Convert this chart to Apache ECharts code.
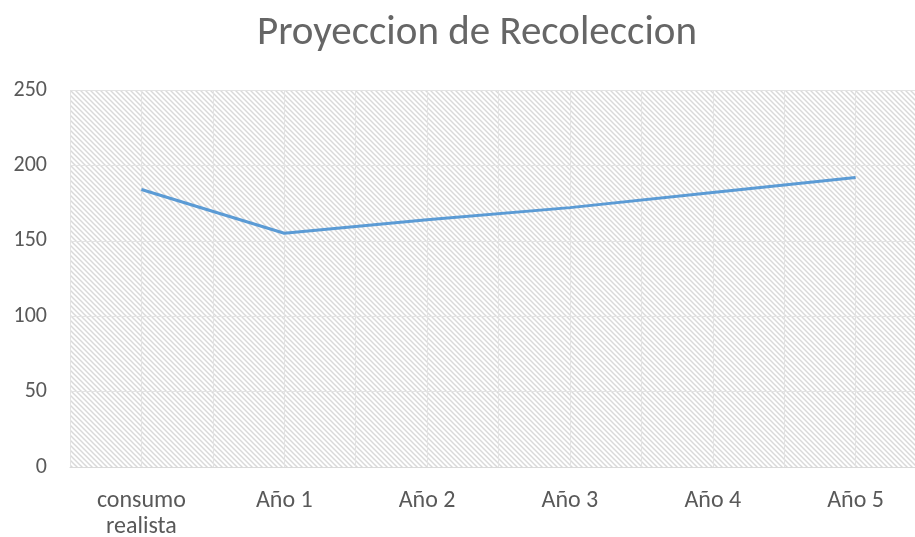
<!DOCTYPE html>
<html>
<head>
<meta charset="utf-8">
<script src="https://cdn.jsdelivr.net/npm/echarts@6/dist/echarts.min.js"></script>
<style>
    html, body { margin: 0; padding: 0; background: #fff; }
    #chart { width: 915px; height: 537px; }
</style>
</head>
<body>
<div id="chart"></div>
<script>
// categorías y valores
const categories = ['consumo\nrealista', 'Año 1', 'Año 2', 'Año 3', 'Año 4', 'Año 5'];
const recoleccion = [184, 155, 164, 172, 182, 192];
const yTicks = [0, 50, 100, 150, 200, 250];

// fondo rayado del área de trazado
function hatchPattern() {
    const c = document.createElement('canvas');
    c.width = 5;
    c.height = 5;
    const ctx = c.getContext('2d');
    ctx.strokeStyle = '#d9d9d9';
    ctx.lineWidth = 1.5;
    for (let off = -5; off <= 5; off += 5) {
        ctx.beginPath();
        ctx.moveTo(off - 1, -1);
        ctx.lineTo(off + 6, 6);
        ctx.stroke();
    }
    return { image: c, repeat: 'repeat' };
}

const font = 'Carlito, Calibri, "Open Sans", sans-serif';
const chart = echarts.init(document.getElementById('chart'));
chart.setOption({
    animation: false,
    title: {
        text: 'Proyeccion de Recoleccion',
        left: 252,
        top: 8,
        textStyle: { color: '#666666', fontSize: 41, fontWeight: 'normal', fontFamily: font }
    },
    grid: {
        left: 70,
        top: 90,
        width: 857,
        bottom: 70,
        outerBoundsMode: 'none',
        show: true,
        borderWidth: 0,
        backgroundColor: hatchPattern()
    },
    xAxis: [
        {
            type: 'category',
            data: categories,
            boundaryGap: true,
            axisTick: { show: false },
            axisLine: { lineStyle: { color: '#d9d9d9', width: 1 } },
            axisLabel: {
                color: '#595959', fontSize: 24, fontFamily: font,
                margin: 21, lineHeight: 26, interval: 0
            },
            splitLine: { show: false }
        },
        {
            // rejilla vertical cada media categoría
            type: 'value',
            min: 0,
            max: 12,
            interval: 1,
            position: 'bottom',
            axisLine: { show: false },
            axisTick: { show: false },
            axisLabel: { show: false },
            splitLine: { show: true, lineStyle: { color: '#e3e3e3', width: 1 } }
        }
    ],
    yAxis: {
        type: 'value',
        min: yTicks[0],
        max: yTicks[yTicks.length - 1],
        interval: 50,
        axisLine: { show: false },
        axisTick: { show: false },
        axisLabel: { color: '#595959', fontSize: 22, fontFamily: font, margin: 23 },
        splitLine: { lineStyle: { color: '#e3e3e3', width: 1 } }
    },
    series: [
        {
            name: 'Recoleccion',
            type: 'line',
            xAxisIndex: 0,
            data: recoleccion,
            symbol: 'none',
            lineStyle: { color: '#5B9BD5', width: 3 },
            itemStyle: { color: '#5B9BD5' }
        }
    ]
});
</script>
</body>
</html>
